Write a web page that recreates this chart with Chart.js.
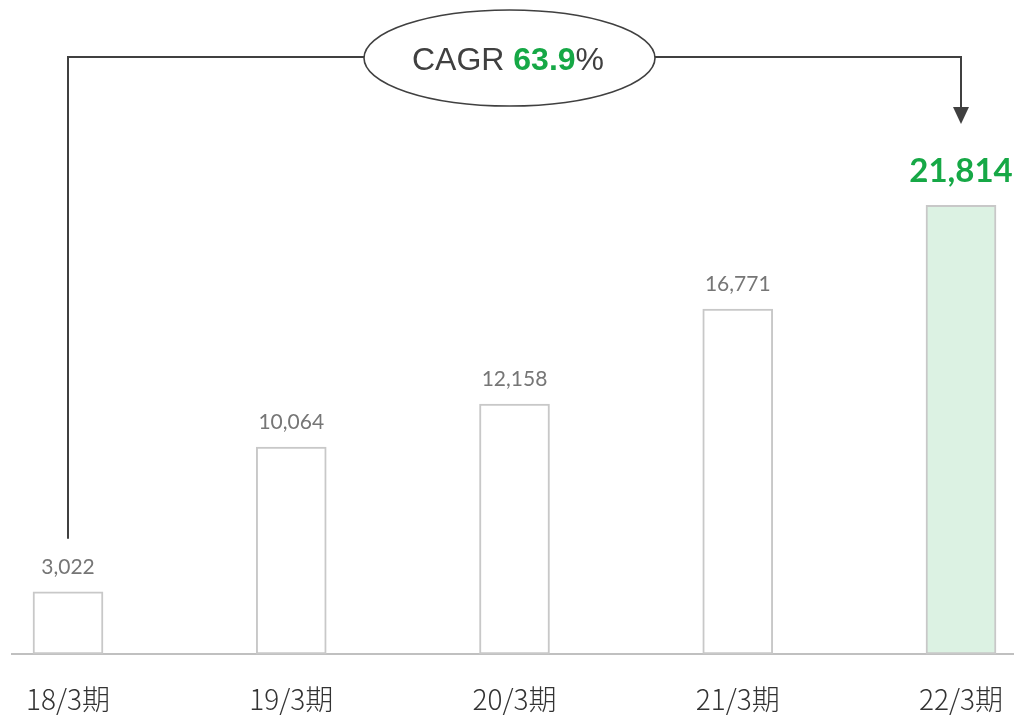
<!DOCTYPE html>
<html><head><meta charset="utf-8">
<script src="https://cdn.jsdelivr.net/npm/chart.js@4/dist/chart.umd.min.js"></script>
<style>html,body{margin:0;padding:0;background:#fff;}#wrap{width:1014px;height:716px;}</style>
</head><body><div id="wrap"><canvas id="c" width="1014" height="716"></canvas></div>
<script>
const categories = ["18/3期","19/3期","20/3期","21/3期","22/3期"];
const values = [3022, 10064, 12158, 16771, 21814];
const valueLabels = ["3,022","10,064","12,158","16,771","21,814"];
const cagrLabel = "63.9";

const GREEN = '#16a846';
const DARK = '#404040';

const overlay = {
  id: 'overlay',
  beforeDatasetsDraw(chart) {
    const ctx = chart.ctx, a = chart.chartArea;
    ctx.save();
    ctx.strokeStyle = '#c0c0c0';
    ctx.lineWidth = 2;
    ctx.beginPath();
    ctx.moveTo(11, a.bottom);
    ctx.lineTo(1014, a.bottom);
    ctx.stroke();
    ctx.restore();
  },
  afterDatasetsDraw(chart) {
    const ctx = chart.ctx;
    const bars = chart.getDatasetMeta(0).data;
    const n = bars.length;
    ctx.save();
    ctx.textAlign = 'center';
    ctx.textBaseline = 'alphabetic';
    bars.forEach((b, i) => {
      if (i === n - 1) {
        ctx.fillStyle = GREEN;
        ctx.font = 'bold 33px Lato, "Open Sans", sans-serif';
        ctx.fillText(valueLabels[i], b.x, b.y - 23);
      } else {
        ctx.fillStyle = '#767676';
        ctx.font = '21px Lato, "Open Sans", sans-serif';
        ctx.fillText(valueLabels[i], b.x, b.y - 18);
      }
    });

    // CAGR connector
    const first = bars[0], last = bars[n - 1];
    const cx = 509.5, cy = 58, rx = 145.5, ry = 48;
    const lineY = 57;
    ctx.strokeStyle = DARK;
    ctx.lineWidth = 2;
    ctx.beginPath();
    ctx.moveTo(first.x, first.y - 53);
    ctx.lineTo(first.x, lineY);
    ctx.lineTo(cx - rx, lineY);
    ctx.moveTo(cx + rx, lineY);
    ctx.lineTo(last.x, lineY);
    ctx.lineTo(last.x, 108);
    ctx.stroke();
    ctx.fillStyle = DARK;
    ctx.beginPath();
    ctx.moveTo(last.x - 8, 107);
    ctx.lineTo(last.x + 8, 107);
    ctx.lineTo(last.x, 124);
    ctx.closePath();
    ctx.fill();

    ctx.beginPath();
    ctx.ellipse(cx, cy, rx, ry, 0, 0, Math.PI * 2);
    ctx.fillStyle = '#ffffff';
    ctx.fill();
    ctx.lineWidth = 1.6;
    ctx.strokeStyle = DARK;
    ctx.stroke();

    const f1 = '32px "Liberation Sans", Arial, sans-serif';
    const f2 = 'bold 32px "Liberation Sans", Arial, sans-serif';
    const p1 = 'CAGR ', p2 = cagrLabel, p3 = '%';
    ctx.font = f1; const w1 = ctx.measureText(p1).width, w3 = ctx.measureText(p3).width;
    ctx.font = f2; const w2 = ctx.measureText(p2).width;
    let x = 508 - (w1 + w2 + w3) / 2;
    const by = 70;
    ctx.textAlign = 'left';
    ctx.font = f1; ctx.fillStyle = DARK; ctx.fillText(p1, x, by); x += w1;
    ctx.font = f2; ctx.fillStyle = GREEN; ctx.fillText(p2, x, by); x += w2;
    ctx.font = f1; ctx.fillStyle = DARK; ctx.fillText(p3, x, by);
    ctx.restore();
  }
};

new Chart(document.getElementById('c'), {
  type: 'bar',
  data: {
    labels: categories,
    datasets: [{
      data: values,
      backgroundColor: values.map((v, i) => i === values.length - 1 ? '#dcf2e3' : '#ffffff'),
      borderColor: '#c8c8c8',
      borderWidth: 2,
      borderSkipped: false,
      barThickness: 70,
      clip: false
    }]
  },
  options: {
    responsive: false,
    animation: false,
    layout: { padding: { left: 68, right: 53, top: 0, bottom: 0 } },
    plugins: { legend: { display: false }, tooltip: { enabled: false }, title: { display: false } },
    scales: {
      x: {
        offset: false,
        grid: { display: false, drawTicks: false },
        border: { display: false },
        ticks: {
          color: '#333333',
          font: { family: '"Noto Sans CJK JP", sans-serif', size: 28, weight: 300 },
          padding: 29,
          maxRotation: 0,
          autoSkip: false
        },
        afterFit(scale) { scale.height = 62; scale.paddingLeft = 0; scale.paddingRight = 0; }
      },
      y: { display: false, min: 0, max: 31800 }
    }
  },
  plugins: [overlay]
});
</script>
</body></html>
